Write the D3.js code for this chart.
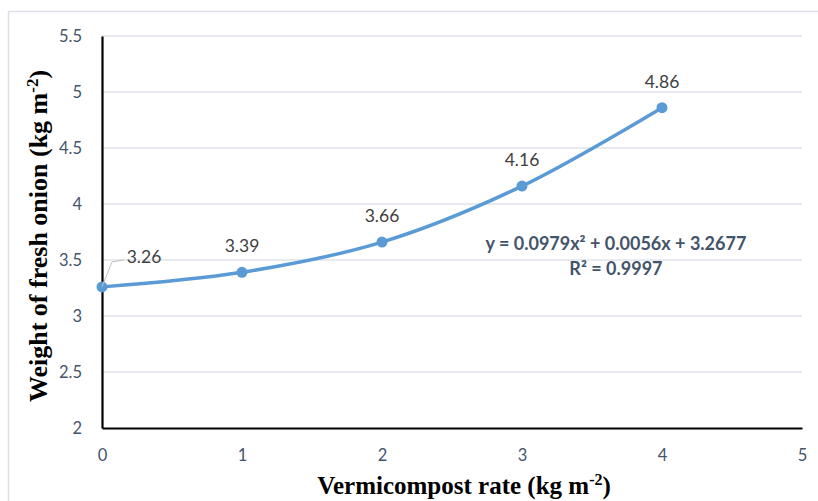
<!DOCTYPE html>
<html>
<head>
<meta charset="utf-8">
<script src="https://cdn.jsdelivr.net/npm/d3@7"></script>
<style>
  body { margin: 0; background: #fff; }
  text { font-family: Lato, "Open Sans", sans-serif; }
</style>
</head>
<body>
<div id="chart"></div>
<script>
// data
const rates = [0, 1, 2, 3, 4];
const weights = [3.26, 3.39, 3.66, 4.16, 4.86];
const weightLabels = ["3.26", "3.39", "3.66", "4.16", "4.86"];
const xTicks = [0, 1, 2, 3, 4, 5];
const yTicks = [2, 2.5, 3, 3.5, 4, 4.5, 5, 5.5];
const equationText = "y = 0.0979x² + 0.0056x + 3.2677";
const r2Text = "R² = 0.9997";

const W = 818, H = 501;
const margin = { top: 36, right: 16, bottom: 73, left: 102 };
const width = W - margin.left - margin.right;
const height = H - margin.top - margin.bottom;

const svg = d3.select("#chart").append("svg")
  .attr("width", W).attr("height", H);

// chart frame
svg.append("rect")
  .attr("x", 8.5).attr("y", 11.5)
  .attr("width", W).attr("height", H)
  .attr("fill", "none").attr("stroke", "#dde1e7").attr("stroke-width", 1.5);

const g = svg.append("g").attr("transform", `translate(${margin.left},${margin.top})`);

const x = d3.scaleLinear().domain([0, 5]).range([0, width]);
const y = d3.scaleLinear().domain([2, 5.5]).range([height, 0]);

// gridlines
g.selectAll(".grid").data(yTicks.filter(d => d > 2)).enter()
  .append("line")
  .attr("x1", 0).attr("x2", width)
  .attr("y1", d => y(d)).attr("y2", d => y(d))
  .attr("stroke", "#dfe3ea").attr("stroke-width", 1.5);

// y axis
const yAxis = g.append("g")
  .call(d3.axisLeft(y).tickValues(yTicks).tickFormat(d3.format("")).tickSize(0).tickPadding(20));
yAxis.select(".domain").attr("stroke", "#000").attr("stroke-width", 2.2);
yAxis.selectAll("text").attr("fill", "#44546a").style("font-size", "16.5px");

// x axis
const xAxis = g.append("g").attr("transform", `translate(0,${height})`)
  .call(d3.axisBottom(x).tickValues(xTicks).tickFormat(d3.format("")).tickSize(0).tickPadding(21));
xAxis.select(".domain").attr("stroke", "#000").attr("stroke-width", 2.2);
xAxis.selectAll("text").attr("fill", "#44546a").style("font-size", "16.5px");

const pts = rates.map((r, i) => ({ x: r, y: weights[i], label: weightLabels[i] }));

// fitted curve through the points
const line = d3.line()
  .x(d => x(d.x)).y(d => y(d.y))
  .curve(d3.curveCatmullRom.alpha(0.5));
g.append("path").datum(pts)
  .attr("d", line)
  .attr("fill", "none")
  .attr("stroke", "#5b9bd5")
  .attr("stroke-width", 3.5)
  .attr("stroke-linecap", "round");

g.selectAll(".pt").data(pts).enter()
  .append("circle")
  .attr("cx", d => x(d.x)).attr("cy", d => y(d.y))
  .attr("r", 5.5)
  .attr("fill", "#5b9bd5");

// leader line for first label
const p0 = pts[0];
g.append("polyline")
  .attr("points", `${x(p0.x)},${y(p0.y)} ${x(p0.x) + 10},${y(p0.y) - 25} ${x(p0.x) + 22},${y(p0.y) - 27}`)
  .attr("fill", "none").attr("stroke", "#bfbfbf").attr("stroke-width", 1);

// data labels
g.selectAll(".lbl").data(pts).enter()
  .append("text")
  .attr("x", (d, i) => i === 0 ? x(d.x) + 42 : x(d.x))
  .attr("y", (d, i) => i === 0 ? y(d.y) - 24 : y(d.y) - 20)
  .attr("text-anchor", "middle")
  .attr("fill", "#404040")
  .style("font-size", "17.5px")
  .text(d => d.label);

// equation
g.append("text")
  .attr("x", x(3.671)).attr("y", y(3.589))
  .attr("text-anchor", "middle")
  .attr("fill", "#44546a")
  .style("font-size", "18px").style("font-weight", "bold")
  .text(equationText);
g.append("text")
  .attr("x", x(3.671)).attr("y", y(3.366))
  .attr("text-anchor", "middle")
  .attr("fill", "#44546a")
  .style("font-size", "18px").style("font-weight", "bold")
  .text(r2Text);

// axis titles
const titleFont = "'Liberation Serif', 'Times New Roman', serif";
svg.append("text")
  .attr("x", 464).attr("y", 494)
  .attr("text-anchor", "middle")
  .style("font-family", titleFont).style("font-weight", "bold").style("font-size", "25px")
  .attr("fill", "#000")
  .html("Vermicompost rate (kg m<tspan dy='-9' font-size='16'>-2</tspan><tspan dy='9'>)</tspan>");

svg.append("text")
  .attr("transform", "translate(47,236) rotate(-90)")
  .attr("text-anchor", "middle")
  .style("font-family", titleFont).style("font-weight", "bold").style("font-size", "26px")
  .attr("fill", "#000")
  .html("Weight of fresh onion (kg m<tspan dy='-9' font-size='17'>-2</tspan><tspan dy='9'>)</tspan>");
</script>
</body>
</html>
